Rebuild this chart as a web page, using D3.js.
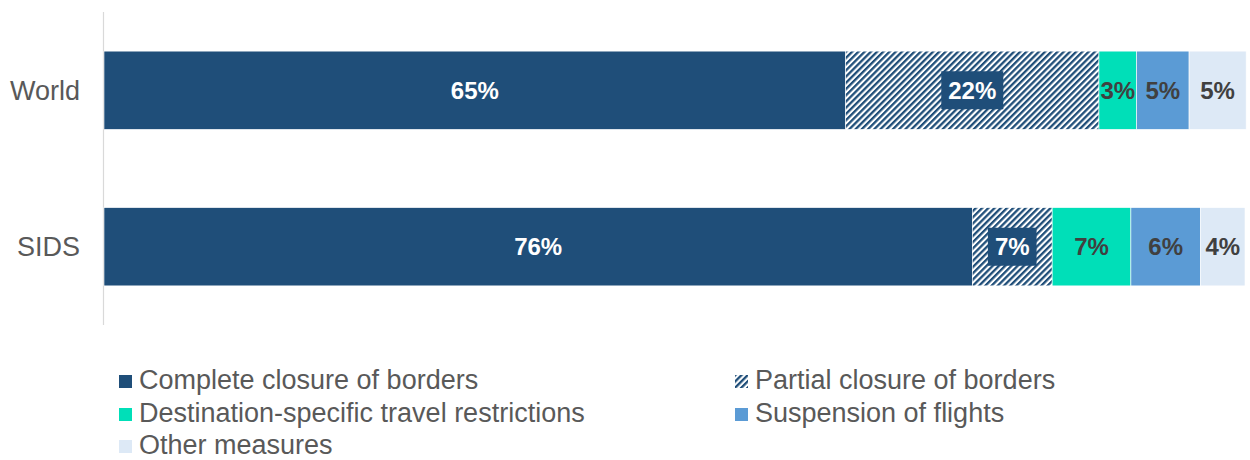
<!DOCTYPE html>
<html><head><meta charset="utf-8">
<script src="https://cdn.jsdelivr.net/npm/d3@7"></script>
<style>body{margin:0;background:#fff}svg{display:block}text{font-family:"Liberation Sans",Arial,sans-serif}</style>
</head><body><svg id="c" width="1250" height="460"></svg>
<script>
const categories = ["World", "SIDS"];
const seriesNames = ["Complete closure of borders", "Partial closure of borders", "Destination-specific travel restrictions", "Suspension of flights", "Other measures"];
const seriesColors = ["#1f4e79", "url(#hatch)", "#00dfb8", "#5b9bd5", "#dde9f6"];
const labelColors = ["#ffffff", "#ffffff", "#404040", "#404040", "#404040"];
const worldValues = [65.0, 22.2, 3.3, 4.6, 5.0];
const sidsValues = [76.1, 7.0, 6.9, 6.1, 3.9];
const worldLabels = ["65%", "22%", "3%", "5%", "5%"];
const sidsLabels = ["76%", "7%", "7%", "6%", "4%"];
const valuesByCat = [worldValues, sidsValues];
const labelsByCat = [worldLabels, sidsLabels];

const svg = d3.select("#c");
const defs = svg.append("defs");
const pat = defs.append("pattern").attr("id", "hatch").attr("patternUnits", "userSpaceOnUse")
  .attr("width", 4.4).attr("height", 4.4).attr("patternTransform", "rotate(45)");
pat.append("rect").attr("width", 4.4).attr("height", 4.4).attr("fill", "#ffffff");
pat.append("rect").attr("width", 2.3).attr("height", 4.4).attr("fill", "#1f4e79");

const x = d3.scaleLinear().domain([0, 100]).range([104, 1245]);
const y = d3.scaleBand().domain(categories).range([12, 325]).paddingInner(0.5).paddingOuter(0.25);

// axis line
svg.append("line").attr("x1", 103.5).attr("x2", 103.5).attr("y1", 12).attr("y2", 325)
  .attr("stroke", "#d9d9d9").attr("stroke-width", 1.2);

categories.forEach((cat, ci) => {
  const vals = valuesByCat[ci];
  const labs = labelsByCat[ci];
  let acc = 0;
  const segs = vals.map((v, i) => { const s = {i, x0: acc, x1: acc + v, label: labs[i]}; acc += v; return s; });
  const g = svg.append("g");
  g.selectAll("rect").data(segs).join("rect")
    .attr("x", d => x(d.x0)).attr("width", d => x(d.x1) - x(d.x0))
    .attr("y", y(cat)).attr("height", y.bandwidth())
    .attr("fill", d => seriesColors[d.i])
    .attr("stroke", "#ffffff").attr("stroke-width", 0.6);
  segs.forEach(d => {
    const cx = (x(d.x0) + x(d.x1)) / 2, cy = y(cat) + y.bandwidth() / 2;
    const t = g.append("text").attr("x", cx).attr("y", cy).attr("dy", "0.35em")
      .attr("text-anchor", "middle").attr("font-size", 24).attr("font-weight", "bold")
      .attr("fill", labelColors[d.i]).text(d.label);
    if (d.i === 1) {
      const w = t.node().getComputedTextLength();
      g.insert("rect", () => t.node()).attr("x", cx - w / 2 - 7).attr("y", cy - 19)
        .attr("width", w + 14).attr("height", 38).attr("fill", "#1f4e79");
    }
  });
  svg.append("text").attr("x", 80).attr("y", y(cat) + y.bandwidth() / 2).attr("dy", "0.35em")
    .attr("text-anchor", "end").attr("font-size", 27).attr("fill", "#595959").text(cat);
});

// legend
const legX = [119, 735];
const legY = [380, 413, 445];
seriesNames.forEach((name, i) => {
  const col = i % 2, row = Math.floor(i / 2);
  const g = svg.append("g").attr("transform", `translate(${legX[col]},${legY[row]})`);
  g.append("rect").attr("x", 0).attr("y", -5).attr("width", 13).attr("height", 13).attr("fill", seriesColors[i]);
  g.append("text").attr("x", 20).attr("y", 0).attr("dy", "0.35em").attr("font-size", 27)
    .attr("fill", "#595959").text(name);
});
</script></body></html>
